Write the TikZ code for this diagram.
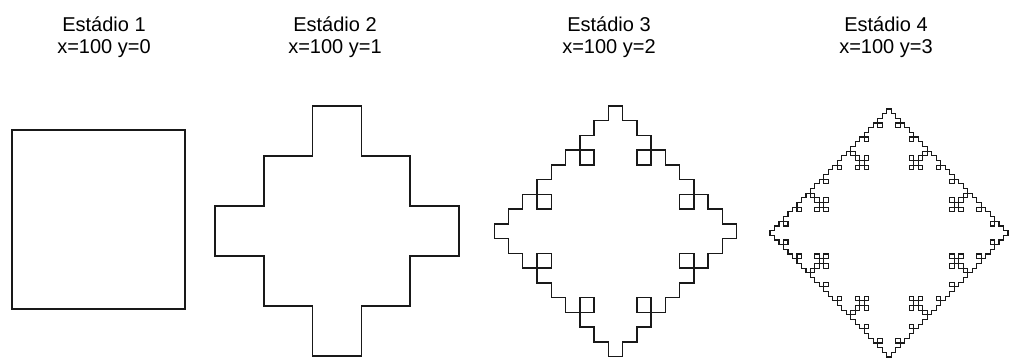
\documentclass[tikz,border=0pt]{standalone}
\usepackage{fontspec}
\setmainfont{Liberation Sans}
\usetikzlibrary{lindenmayersystems}

% Quadratic Koch rule: every segment gets an outward square bump
\pgfdeclarelindenmayersystem{quadkoch}{\rule{F -> F+F-F-F+F}}

\tikzset{
  label/.style={anchor=base, inner sep=0pt, font=\fontsize{20}{24}\selectfont},
  curve/.style={draw=black!90, line join=miter},
}

\begin{document}
\begin{tikzpicture}[x=1pt, y=-1pt]
  \useasboundingbox (0,0) rectangle (1009,361);

  % titles
  \node[label] (t1) at (104,31.7) {Estádio 1};
  \node[label] (p1) at (104,53.3) {x=100 y=0};
  \node[label] (t2) at (335,31.7) {Estádio 2};
  \node[label] (p2) at (335,53.3) {x=100 y=1};
  \node[label] (t3) at (609,31.7) {Estádio 3};
  \node[label] (p3) at (609,53.3) {x=100 y=2};
  \node[label] (t4) at (886,31.7) {Estádio 4};
  \node[label] (p4) at (886,53.3) {x=100 y=3};

  % stage 1: the starting square
  \draw[curve, line width=1.7pt] (11.7,130.3) rectangle (184.7,309.3);

  % stage 2
  \begin{scope}[shift={(263.8,156)}, xscale=48.8, yscale=50]
    \draw[curve, line width=1.6pt,
      lindenmayer system={quadkoch, axiom=F-F-F-F, order=1, step=1pt, angle=90}]
      (0,0) lindenmayer system -- cycle;
  \end{scope}

  % stage 3
  \begin{scope}[shift={(551.3,164.9)}, xscale=14.26, yscale=14.75]
    \draw[curve, line width=1.4pt,
      lindenmayer system={quadkoch, axiom=F-F-F-F, order=2, step=1pt, angle=90}]
      (0,0) lindenmayer system -- cycle;
  \end{scope}

  % stage 4
  \begin{scope}[shift={(828.4,169.8)}, xscale=4.49, yscale=4.68]
    \draw[curve, line width=1.1pt,
      lindenmayer system={quadkoch, axiom=F-F-F-F, order=3, step=1pt, angle=90}]
      (0,0) lindenmayer system -- cycle;
  \end{scope}
\end{tikzpicture}
\end{document}
